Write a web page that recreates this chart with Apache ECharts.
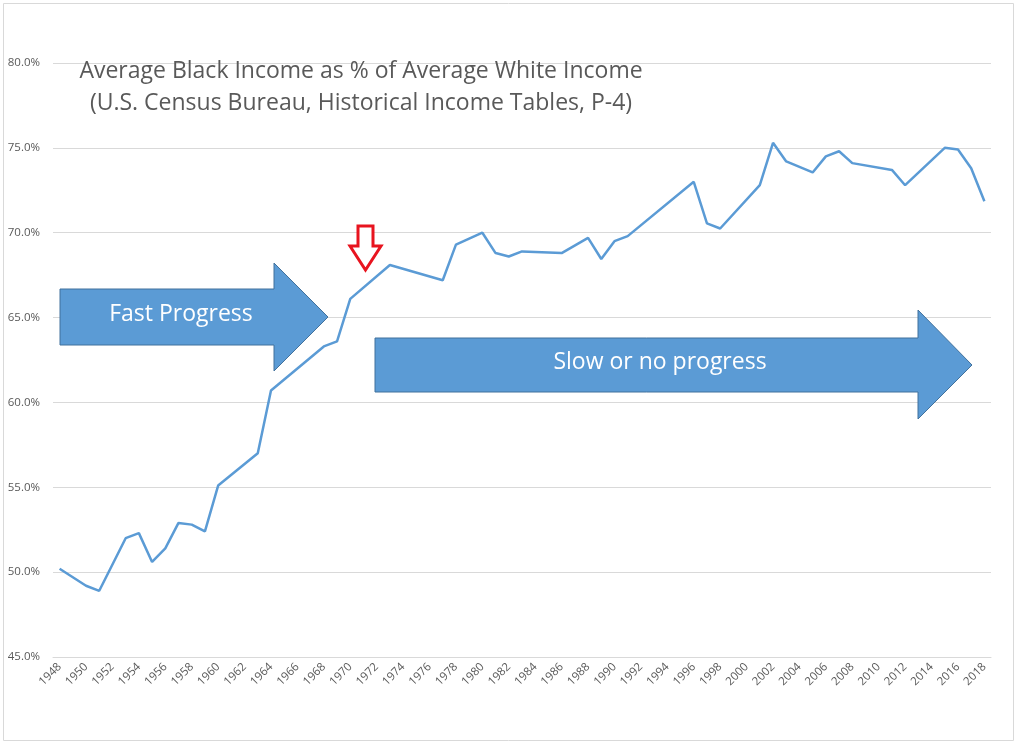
<!DOCTYPE html>
<html>
<head>
<meta charset="utf-8">
<script src="https://cdn.jsdelivr.net/npm/echarts@6/dist/echarts.min.js"></script>
<style>
html,body{margin:0;padding:0;background:#fff;}
#chart{width:1023px;height:745px;}
</style>
</head>
<body>
<div id="chart"></div>
<script>
var years = ['1948','1949','1950','1951','1952','1953','1954','1955','1956','1957','1958','1959',
  '1960','1961','1962','1963','1964','1965','1966','1967','1968','1969',
  '1970','1971','1972','1973','1974','1975','1976','1977','1978','1979',
  '1980','1981','1982','1983','1984','1985','1986','1987','1988','1989',
  '1990','1991','1992','1993','1994','1995','1996','1997','1998','1999',
  '2000','2001','2002','2003','2004','2005','2006','2007','2008','2009',
  '2010','2011','2012','2013','2014','2015','2016','2017','2018'];
var ratio = [50.2,null,49.2,48.9,null,52.0,52.3,50.6,51.4,52.9,52.8,52.4,
  55.1,null,null,57.0,60.7,null,null,null,63.3,63.6,
  66.1,null,null,68.1,null,null,null,67.2,69.3,null,
  70.0,68.8,68.6,68.9,null,null,68.8,null,69.7,68.45,
  69.5,69.8,null,null,null,null,73.0,70.55,70.25,null,
  null,72.8,75.3,74.2,null,73.55,74.5,74.8,74.1,null,
  null,73.7,72.8,null,null,75.0,74.9,73.8,71.85];
var titleLines = ['Average Black Income as % of Average White Income',
  '(U.S. Census Bureau, Historical Income Tables, P-4)'];
var yMin = 45, yMax = 80, yStep = 5;

var chart = echarts.init(document.getElementById('chart'));
var font = '"Open Sans", "Noto Sans", sans-serif';
var blueFill = '#5b9bd5', blueStroke = '#41719c';
chart.setOption({
  animation: false,
  grid: {left: 53, right: 32, top: 63, bottom: 88, containLabel: false},
  xAxis: {
    type: 'category',
    data: years,
    boundaryGap: true,
    axisLine: {lineStyle: {color: '#d9d9d9'}},
    axisTick: {show: false},
    axisLabel: {interval: 1, rotate: 45, color: '#595959', fontSize: 11.5, fontFamily: font, margin: 8}
  },
  yAxis: {
    type: 'value',
    min: yMin, max: yMax, interval: yStep,
    axisLine: {show: false},
    axisTick: {show: false},
    splitLine: {lineStyle: {color: '#d9d9d9'}},
    axisLabel: {color: '#595959', fontSize: 11.5, fontFamily: font, margin: 13,
      formatter: function (v) { return v.toFixed(1) + '%'; }}
  },
  series: [{
    type: 'line',
    data: ratio,
    connectNulls: true,
    showSymbol: false,
    symbol: 'none',
    lineStyle: {color: '#5b9bd5', width: 2.5},
    z: 3
  }],
  graphic: [
    {type: 'rect', shape: {x: 3.5, y: 3.5, width: 1010, height: 737}, style: {fill: 'none', stroke: '#d9d9d9', lineWidth: 1}, z: 0, silent: true},
    {type: 'text', x: 361, y: 71, z: 10, style: {text: titleLines[0], fill: '#595959', font: '23px ' + font, textAlign: 'center', textVerticalAlign: 'middle'}},
    {type: 'text', x: 361, y: 103, z: 10, style: {text: titleLines[1], fill: '#595959', font: '23px ' + font, textAlign: 'center', textVerticalAlign: 'middle'}},
    {type: 'polygon', z: 5, shape: {points: [[60,289],[274,289],[274,263],[328,317],[274,371],[274,345],[60,345]]},
      style: {fill: blueFill, stroke: blueStroke, lineWidth: 1}},
    {type: 'text', x: 181, y: 314, z: 6, style: {text: 'Fast Progress', fill: '#ffffff', font: '23px ' + font, textAlign: 'center', textVerticalAlign: 'middle'}},
    {type: 'polygon', z: 5, shape: {points: [[375,338],[918,338],[918,310],[972,365],[918,419],[918,392],[375,392]]},
      style: {fill: blueFill, stroke: blueStroke, lineWidth: 1}},
    {type: 'text', x: 660, y: 362, z: 6, style: {text: 'Slow or no progress', fill: '#ffffff', font: '23px ' + font, textAlign: 'center', textVerticalAlign: 'middle'}},
    {type: 'polygon', z: 5, shape: {points: [[358,226],[373,226],[373,246],[381,246],[365.5,270],[350,246],[358,246]]},
      style: {fill: '#ffffff', stroke: '#e8141f', lineWidth: 3, lineJoin: 'miter'}}
  ]
});
</script>
</body>
</html>
